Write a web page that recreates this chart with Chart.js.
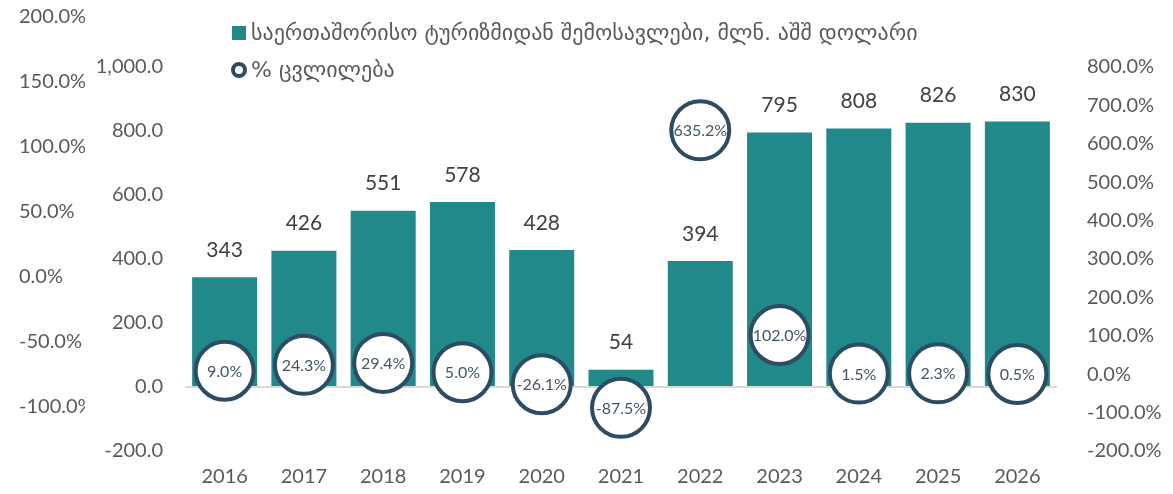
<!DOCTYPE html>
<html>
<head>
<meta charset="utf-8">
<script src="https://cdn.jsdelivr.net/npm/chart.js@4/dist/chart.umd.min.js"></script>
<style>
  html, body { margin: 0; padding: 0; background: #fff; }
  #wrap { position: relative; width: 1173px; height: 494px; }
</style>
</head>
<body>
<div id="wrap"><canvas id="tourismChart"></canvas></div>
<script>
// Data
const years = ['2016', '2017', '2018', '2019', '2020', '2021', '2022', '2023', '2024', '2025', '2026'];
const revenue = [343, 426, 551, 578, 428, 54, 394, 795, 808, 826, 830];
const change = [9.0, 24.3, 29.4, 5.0, -26.1, -87.5, 635.2, 102.0, 1.5, 2.3, 0.5];
const revenueLabel = 'საერთაშორისო ტურიზმიდან შემოსავლები, მლნ. აშშ დოლარი';
const changeLabel = '% ცვლილება';
const outerTicks = [-100, -50, 0, 50, 100, 150, 200];

const TEAL = '#21898A';
const NAVY = '#2C4C63';
const NUM_FONT = 'Lato, "DejaVu Sans", sans-serif';
const GEO_FONT = '"DejaVu Sans", sans-serif';

const pct = v => Number(v).toFixed(1) + '%';

// labels on bars, labels in circles, legend
const labelsPlugin = {
    id: 'labelsPlugin',
    afterDraw(chart) {
        const ctx = chart.ctx;
        ctx.save();
        ctx.textAlign = 'center';
        ctx.textBaseline = 'middle';
        ctx.font = '21px ' + NUM_FONT;
        ctx.fillStyle = '#404040';
        chart.getDatasetMeta(0).data.forEach((bar, i) => {
            ctx.fillText(String(revenue[i]), bar.x, bar.y - 27);
        });
        ctx.font = '16px ' + NUM_FONT;
        ctx.fillStyle = '#44546A';
        chart.getDatasetMeta(1).data.forEach((pt, i) => {
            ctx.fillText(pct(change[i]), pt.x, pt.y + 1);
        });

        // legend
        const ds = chart.data.datasets;
        ctx.textAlign = 'left';
        ctx.font = '22px ' + GEO_FONT;
        ctx.fillStyle = ds[0].backgroundColor;
        ctx.fillRect(232, 26, 14, 14);
        ctx.fillStyle = '#595959';
        ctx.fillText(ds[0].label, 251, 34);
        ctx.beginPath();
        ctx.arc(239, 70, 6, 0, Math.PI * 2);
        ctx.fillStyle = '#fff';
        ctx.fill();
        ctx.lineWidth = 4;
        ctx.strokeStyle = ds[1].borderColor;
        ctx.stroke();
        ctx.fillStyle = '#595959';
        ctx.fillText(ds[1].label, 251, 71);
        ctx.restore();
    }
};

function initChart() {
    const ctx = document.getElementById('tourismChart').getContext('2d');
    return new Chart(ctx, {
        type: 'bar',
        data: {
            labels: years,
            datasets: [
                { label: revenueLabel, data: revenue, backgroundColor: TEAL, yAxisID: 'y', order: 1,
                  categoryPercentage: 1, barPercentage: 0.82 },
                { type: 'line', label: changeLabel, data: change, yAxisID: 'y2', order: 0, showLine: false,
                  pointRadius: 29, pointHoverRadius: 29, pointBorderWidth: 4, pointHoverBorderWidth: 4,
                  pointBackgroundColor: '#fff', pointBorderColor: NAVY, borderColor: NAVY, backgroundColor: '#fff' }
            ]
        },
        options: {
            responsive: true, maintainAspectRatio: false, animation: false,
            layout: { padding: { top: 67, left: 19, right: 0, bottom: 0 } },
            plugins: { legend: { display: false }, tooltip: { enabled: false } },
            scales: {
                x: {
                    grid: { display: false }, border: { display: false },
                    ticks: { color: '#595959', font: { size: 20, family: NUM_FONT }, padding: 6 },
                    afterFit: s => { s.height = 43; }
                },
                y3: {
                    position: 'left', weight: 2, min: -133.85, max: 161.5,
                    grid: { display: false }, border: { display: false },
                    ticks: { color: '#595959', font: { size: 20, family: NUM_FONT }, crossAlign: 'far', autoSkip: false, callback: v => pct(v) },
                    afterBuildTicks: s => { s.ticks = outerTicks.map(v => ({ value: v })); },
                    afterFit: s => { s.width = 66; }
                },
                y: {
                    position: 'left', weight: 1, min: -200, max: 1000,
                    grid: { drawTicks: false, color: c => c.tick && c.tick.value === 0 ? '#D9D9D9' : 'rgba(0,0,0,0)', lineWidth: 2 },
                    border: { display: false },
                    ticks: { stepSize: 200, padding: 22, color: '#595959', font: { size: 20, family: NUM_FONT },
                             callback: v => v.toLocaleString('en-US', { minimumFractionDigits: 1, maximumFractionDigits: 1 }) },
                    afterFit: s => { s.width = 100; }
                },
                y2: {
                    position: 'right', min: -200, max: 800,
                    grid: { display: false }, border: { display: false },
                    ticks: { stepSize: 100, padding: 22, color: '#595959', font: { size: 20, family: NUM_FONT }, callback: v => pct(v) },
                    afterFit: s => { s.width = 116; }
                }
            }
        },
        plugins: [labelsPlugin]
    });
}

initChart();
</script>
</body>
</html>
